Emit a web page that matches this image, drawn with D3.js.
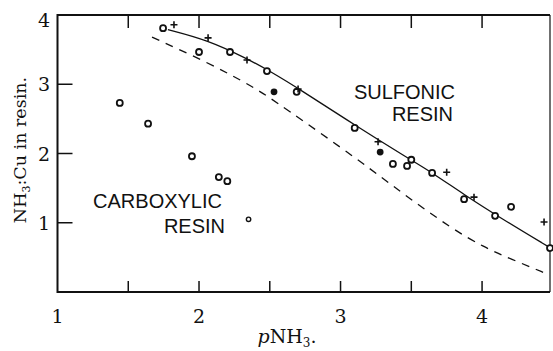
<!DOCTYPE html>
<html><head><meta charset="utf-8">
<script src="https://cdn.jsdelivr.net/npm/d3@7"></script>
<style>body{margin:0;background:#fff}svg{display:block}</style>
</head><body>
<svg id="c" width="553" height="351"></svg>
<script>
// Data
const xTicksMajor = [1, 2, 3, 4];
const xTicksAll = [1.5, 2, 2.5, 3, 3.5, 4];
const yTicks = [1, 2, 3, 4];
const sulfonicCircles = [[1.746,3.81],[2.0,3.466],[2.219,3.466],[2.48,3.19],[2.69,2.89],[3.10,2.37],[3.37,1.85],[3.47,1.82],[3.50,1.91],[3.647,1.72],[3.873,1.34],[4.092,1.10],[4.205,1.23],[4.48,0.635]];
const sulfonicPlus = [[1.823,3.86],[2.064,3.67],[2.339,3.35],[2.70,2.93],[3.265,2.17],[3.75,1.73],[3.943,1.37],[4.438,1.01]];
const sulfonicDots = [[2.53,2.89],[3.28,2.02]];
const carboxylicCircles = [[1.44,2.73],[1.64,2.43],[1.95,1.96],[2.14,1.66],[2.20,1.60]];
const carboxylicSmall = [[2.35,1.05]];
const solidCurve = [[1.78,3.79],[2.06,3.64],[2.34,3.37],[2.50,3.19],[2.71,2.93],[3.10,2.41],[3.47,1.94],[3.65,1.72],[3.87,1.41],[4.13,1.07],[4.48,0.64]];
const dashedCurve = [[1.668,3.68],[2.057,3.32],[2.396,2.95],[2.59,2.68],[3.14,1.89],[3.44,1.42],[3.79,0.91],[4.01,0.65],[4.20,0.48],[4.46,0.26]];

const svg = d3.select("#c");
const L = 57.5, R = 550, T = 15, B = 292;
const x = d3.scaleLinear().domain([1, 4.48]).range([L, R]);
const y = d3.scaleLinear().domain([0, 4]).range([B, T]);
const ink = "#111";
const serif = "'DejaVu Serif', serif";
const sans = "'Liberation Sans', Arial, sans-serif";

// frame
svg.append("line").attr("x1",L).attr("x2",R).attr("y1",T).attr("y2",T).attr("stroke",ink).attr("stroke-width",2);
svg.append("line").attr("x1",L).attr("x2",R).attr("y1",B).attr("y2",B).attr("stroke",ink).attr("stroke-width",2);
svg.append("line").attr("x1",L).attr("x2",L).attr("y1",T-1).attr("y2",B+1).attr("stroke",ink).attr("stroke-width",2);
svg.append("line").attr("x1",R).attr("x2",R).attr("y1",T).attr("y2",B).attr("stroke",ink).attr("stroke-width",1.2);

// x ticks (inward, top and bottom)
const gx = svg.append("g");
gx.selectAll("line.b").data(xTicksAll).join("line").attr("class","b")
  .attr("x1",d=>x(d)).attr("x2",d=>x(d)).attr("y1",B).attr("y2",B-11).attr("stroke",ink).attr("stroke-width",1.5);
gx.selectAll("line.t").data(xTicksAll).join("line").attr("class","t")
  .attr("x1",d=>x(d)).attr("x2",d=>x(d)).attr("y1",T).attr("y2",T+13).attr("stroke",ink).attr("stroke-width",1.5);
gx.selectAll("text").data(xTicksMajor).join("text")
  .attr("x",d=>x(d)).attr("y",323).attr("text-anchor","middle")
  .attr("font-family",serif).attr("font-size",19).attr("fill",ink).text(d=>d);

// y ticks
const gy = svg.append("g");
gy.selectAll("line").data(yTicks.filter(d=>d<4)).join("line")
  .attr("x1",L).attr("x2",L+15).attr("y1",d=>y(d)).attr("y2",d=>y(d)).attr("stroke",ink).attr("stroke-width",1.5);
gy.selectAll("text").data(yTicks).join("text")
  .attr("x",50).attr("y",d=>d===4? y(d)+12 : y(d)+7).attr("text-anchor","end")
  .attr("font-family",serif).attr("font-size",19).attr("fill",ink).text(d=>d);

// axis titles
const xt = svg.append("text").attr("x",287).attr("y",343).attr("text-anchor","middle")
  .attr("font-family",serif).attr("font-size",19).attr("fill",ink);
xt.append("tspan").attr("font-style","italic").text("p");
xt.append("tspan").text("NH");
xt.append("tspan").attr("font-size",12).attr("dy",4).text("3");
xt.append("tspan").attr("dy",-4).text(".");

const yt = svg.append("text").attr("transform","translate(26,150) rotate(-90)").attr("text-anchor","middle")
  .attr("font-family",serif).attr("font-size",17.5).attr("fill",ink);
yt.append("tspan").text("NH");
yt.append("tspan").attr("font-size",11).attr("dy",4).text("3");
yt.append("tspan").attr("dy",-4).text(":Cu in resin.");

// curves
const line = d3.line().x(d=>x(d[0])).y(d=>y(d[1])).curve(d3.curveBasis);
svg.append("path").attr("d",line(solidCurve)).attr("fill","none").attr("stroke",ink).attr("stroke-width",1.3);
svg.append("path").attr("d",line(dashedCurve)).attr("fill","none").attr("stroke",ink).attr("stroke-width",1.3).attr("stroke-dasharray","8,7");

// markers
svg.selectAll("circle.o").data(sulfonicCircles.concat(carboxylicCircles)).join("circle").attr("class","o")
  .attr("cx",d=>x(d[0])).attr("cy",d=>y(d[1])).attr("r",3).attr("fill","#fff").attr("stroke",ink).attr("stroke-width",1.8);
svg.selectAll("circle.s").data(carboxylicSmall).join("circle").attr("class","s")
  .attr("cx",d=>x(d[0])).attr("cy",d=>y(d[1])).attr("r",2.2).attr("fill","#fff").attr("stroke",ink).attr("stroke-width",1.4);
svg.selectAll("circle.f").data(sulfonicDots).join("circle").attr("class","f")
  .attr("cx",d=>x(d[0])).attr("cy",d=>y(d[1])).attr("r",3.4).attr("fill",ink);
svg.selectAll("path.p").data(sulfonicPlus).join("path").attr("class","p")
  .attr("transform",d=>`translate(${x(d[0])},${y(d[1])})`)
  .attr("d","M-3.5,0H3.5M0,-3.5V3.5").attr("stroke",ink).attr("stroke-width",1.6);

// annotations
const ann = [["SULFONIC",455,99],["RESIN",453,121],["CARBOXYLIC",222,208],["RESIN",225,233]];
svg.selectAll("text.a").data(ann).join("text").attr("class","a")
  .attr("x",d=>d[1]).attr("y",d=>d[2]).attr("text-anchor","end")
  .attr("font-family",sans).attr("font-size",20).attr("fill",ink).text(d=>d[0]);
</script>
</body></html>
